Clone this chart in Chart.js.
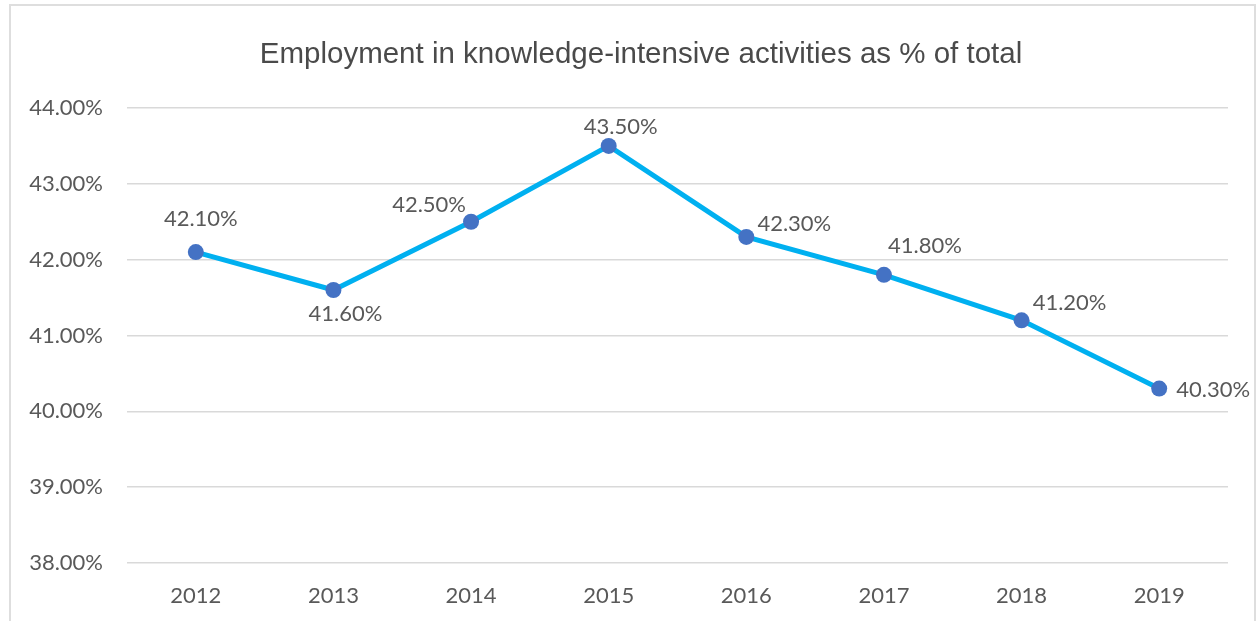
<!DOCTYPE html>
<html>
<head>
<meta charset="utf-8">
<script src="https://cdn.jsdelivr.net/npm/chart.js@4"></script>
<style>
  html, body { margin: 0; padding: 0; background: #fff; }
  #wrap { position: relative; width: 1258px; height: 621px; overflow: hidden; }
  #frame {
    position: absolute; left: 9px; top: 4px; width: 1247px; height: 700px;
    border: 2px solid #dedede; box-sizing: border-box;
  }
  #chart { position: absolute; left: 0; top: 0; }
</style>
</head>
<body>
<div id="wrap">
  <div id="frame"></div>
  <canvas id="chart" width="1258" height="621"></canvas>
</div>
<script>
// ===== DATA =====
const years = ["2012", "2013", "2014", "2015", "2016", "2017", "2018", "2019"];
const share = [42.1, 41.6, 42.5, 43.5, 42.3, 41.8, 41.2, 40.3];
const yTicks = [38, 39, 40, 41, 42, 43, 44];
const titleText = "Employment in knowledge-intensive activities as % of total";

// where each value label sits relative to its point (dx, dy)
const labelOffsets = [
  [5, -33], [12, 24], [-42, -17], [12, -19],
  [48, -13], [41, -29], [48, -17], [54, 1],
];

const TEXT = "#595959";
const TICK_FONT = { family: "Lato", size: 22 };

const fmt = (v) => v.toFixed(2) + "%";

// title centred over the whole frame, not only the plot
const frameTitle = {
  id: "frameTitle",
  afterDraw(chart) {
    const ctx = chart.ctx;
    ctx.save();
    ctx.font = "29.5px 'Liberation Sans'";
    ctx.fillStyle = "#4a4a4a";
    ctx.textAlign = "center";
    ctx.textBaseline = "middle";
    ctx.fillText(titleText, 641, 55);
    ctx.restore();
  },
};

// draws the value label next to every point
const valueLabels = {
  id: "valueLabels",
  afterDatasetsDraw(chart) {
    const ctx = chart.ctx;
    const meta = chart.getDatasetMeta(0);
    ctx.save();
    ctx.font = "22px Lato";
    ctx.fillStyle = TEXT;
    ctx.textAlign = "center";
    ctx.textBaseline = "middle";
    meta.data.forEach((pt, i) => {
      const [dx, dy] = labelOffsets[i];
      ctx.fillText(fmt(share[i]), pt.x + dx, pt.y + dy);
    });
    ctx.restore();
  },
};

new Chart(document.getElementById("chart"), {
  type: "line",
  data: {
    labels: years,
    datasets: [
      {
        data: share,
        borderColor: "#00B0F0",
        borderWidth: 5,
        tension: 0,
        pointRadius: 8,
        pointBackgroundColor: "#4472C4",
        pointBorderWidth: 0,
        fill: false,
      },
    ],
  },
  options: {
    responsive: false,
    animation: false,
    layout: { padding: { left: 0, right: 30, top: 108, bottom: 0 } },
    plugins: {
      legend: { display: false },
      tooltip: { enabled: false },
      title: { display: false },
    },
    scales: {
      x: {
        offset: true,
        grid: { display: false, drawTicks: false },
        border: { display: false },
        ticks: { color: TEXT, font: TICK_FONT, padding: 20 },
        afterFit: (s) => { s.height = 58; },
      },
      y: {
        min: 38,
        max: 44,
        afterBuildTicks: (s) => { s.ticks = yTicks.map((v) => ({ value: v })); },
        grid: { color: "#d9d9d9", lineWidth: 1.5, drawTicks: false },
        border: { display: false },
        ticks: { color: TEXT, font: TICK_FONT, padding: 24, callback: (v) => fmt(v) },
        afterFit: (s) => { s.width = 127; },
      },
    },
  },
  plugins: [valueLabels, frameTitle],
});
</script>
</body>
</html>
